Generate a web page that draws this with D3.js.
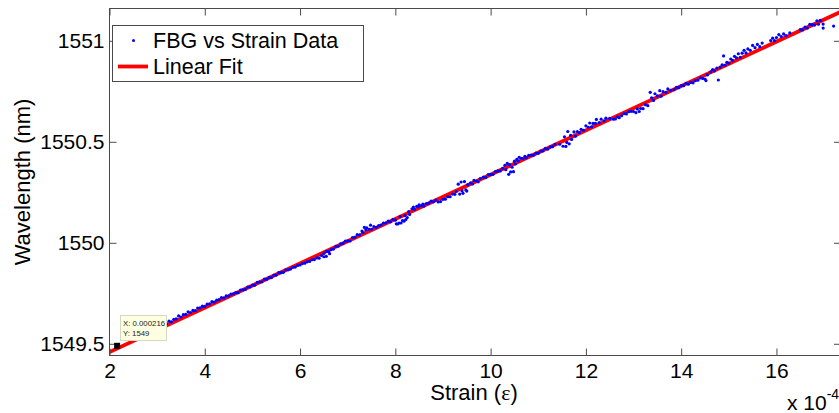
<!DOCTYPE html>
<html>
<head>
<meta charset="utf-8">
<script src="https://cdn.jsdelivr.net/npm/d3@7"></script>
<style>
  body { margin: 0; background: #fff; }
  svg { display: block; }
</style>
</head>
<body>
<div id="content"></div>
<script>
// strain values are in units of 1e-4 (axis multiplier "x 10^-4")
var strain = [
  3.10,3.15,3.20,3.25,3.30,3.35,3.40,3.45,3.50,3.55,3.60,3.65,3.70,3.75,3.80,3.85,3.90,3.95,4.00,4.05,4.10,4.15,4.20,4.25,4.30,4.35,4.40,4.45,4.50,4.55,4.60,
  4.65,4.70,4.75,4.80,4.85,4.90,4.95,5.00,5.05,5.10,5.15,5.20,5.25,5.30,5.35,5.40,5.45,5.50,5.55,5.60,5.65,5.70,5.75,5.80,5.85,5.90,5.95,6.00,
  6.05,6.10,6.15,6.20,6.25,6.30,6.35,6.40,6.45,6.50,6.50,6.55,6.55,6.60,6.62,6.65,6.70,
  6.75,6.80,6.85,6.90,6.95,7.00,7.05,7.10,7.15,7.20,7.25,7.30,7.32,7.35,7.38,7.40,7.45,7.48,7.50,7.55,7.60,
  7.65,7.70,7.75,7.80,7.85,7.90,7.95,8.00,
  8.02,8.05,8.08,8.10,8.12,8.15,8.18,8.20,8.22,8.25,8.28,8.30,8.35,8.38,8.40,
  8.45,8.48,8.50,8.55,8.58,8.60,8.65,8.70,8.75,8.80,8.85,
  8.90,8.95,9.00,9.05,9.10,9.15,9.20,9.25,9.28,
  9.32,9.35,9.38,9.40,9.42,9.45,9.48,9.50,9.52,
  9.58,9.62,9.65,9.70,9.74,9.78,
  9.85,9.90,9.95,10.00,10.05,10.10,10.15,10.20,10.25,
  10.30,10.32,10.35,10.38,10.40,10.42,10.45,10.48,10.50,10.52,10.55,10.58,10.60,
  10.65,10.68,10.72,10.75,10.80,
  10.85,10.90,10.95,11.00,11.05,11.10,11.15,11.20,11.25,11.30,11.35,
  11.45,11.52,11.55,11.58,11.60,11.62,11.65,11.68,11.70,11.75,11.78,11.82,11.86,
  11.90,11.95,12.00,12.05,12.08,12.12,12.15,12.20,12.22,12.28,12.32,12.38,12.42,
  12.50,12.58,12.62,12.66,12.70,12.75,12.80,12.85,12.90,12.95,
  13.00,13.05,13.08,13.12,13.15,13.20,13.25,13.30,
  13.35,13.38,13.42,13.45,13.50,13.55,13.58,13.62,13.68,13.72,
  13.78,13.85,13.90,13.95,14.00,14.05,14.10,
  14.15,14.20,14.25,14.30,14.35,14.40,14.45,14.50,14.52,14.55,
  14.62,14.66,14.70,14.75,14.78,14.82,14.86,14.89,14.92,14.96,15.00,
  15.04,15.08,15.12,15.16,15.20,15.24,15.28,15.32,15.36,15.40,15.45,15.50,15.55,15.60,15.65,15.70,
  15.88,15.92,15.96,16.00,16.05,16.10,16.15,16.20,16.28,
  16.50,16.55,16.60,16.65,16.70,16.75,16.80,16.85,16.88,16.92,16.98,16.98,17.20
];

var wavelength = [
  1549.585,1549.597,1549.600,1549.612,1549.609,1549.621,1549.623,1549.638,1549.632,1549.644,1549.646,1549.658,1549.655,1549.665,1549.664,1549.677,1549.678,1549.686,1549.685,1549.696,1549.698,1549.709,1549.706,1549.716,1549.719,1549.729,1549.727,1549.737,1549.737,1549.746,1549.747,
  1549.754,1549.753,1549.766,1549.767,1549.769,1549.781,1549.782,1549.791,1549.790,1549.804,1549.806,1549.807,1549.820,1549.819,1549.829,1549.828,1549.840,1549.840,1549.852,1549.852,1549.854,1549.866,1549.866,1549.870,1549.879,1549.880,1549.888,1549.890,
  1549.897,1549.899,1549.906,1549.908,1549.916,1549.917,1549.925,1549.924,1549.937,1549.931,1549.947,1549.933,1549.958,1549.956,1549.946,1549.966,1549.969,
  1549.982,1549.983,1549.995,1549.997,1550.008,1550.010,1550.009,1550.026,1550.027,1550.040,1550.039,1550.058,1550.051,1550.076,1550.064,1550.074,1550.067,1550.087,1550.067,1550.080,1550.076,
  1550.085,1550.087,1550.098,1550.098,1550.107,1550.104,1550.116,1550.112,
  1550.094,1550.093,1550.098,1550.130,1550.098,1550.110,1550.107,1550.135,1550.115,1550.125,1550.154,1550.140,1550.168,1550.177,1550.165,
  1550.181,1550.178,1550.188,1550.184,1550.192,1550.181,1550.194,1550.196,1550.206,1550.203,1550.212,
  1550.202,1550.204,1550.215,1550.216,1550.228,1550.228,1550.241,1550.240,1550.254,
  1550.290,1550.241,1550.301,1550.257,1550.245,1550.303,1550.262,1550.256,1550.288,
  1550.297,1550.291,1550.309,1550.306,1550.302,1550.318,
  1550.325,1550.323,1550.338,1550.338,1550.339,1550.353,1550.356,1550.356,1550.369,
  1550.384,1550.362,1550.393,1550.339,1550.387,1550.351,1550.374,1550.352,1550.404,1550.390,1550.413,1550.405,1550.423,
  1550.418,1550.416,1550.428,1550.421,1550.433,
  1550.434,1550.434,1550.444,1550.443,1550.454,1550.455,1550.467,1550.464,1550.475,1550.476,1550.488,
  1550.488,1550.478,1550.525,1550.477,1550.497,1550.551,1550.490,1550.532,1550.512,1550.549,1550.528,1550.551,1550.545,
  1550.562,1550.557,1550.579,1550.572,1550.593,1550.574,1550.591,1550.591,1550.611,1550.595,1550.612,1550.604,1550.617,
  1550.616,1550.612,1550.613,1550.623,1550.619,1550.629,1550.640,1550.638,1550.649,1550.651,
  1550.650,1550.644,1550.663,1550.650,1550.665,1550.664,1550.684,1550.679,
  1550.745,1550.718,1550.705,1550.738,1550.727,1550.753,1550.726,1550.748,1550.745,1550.762,
  1550.755,1550.758,1550.769,1550.768,1550.778,1550.778,1550.790,
  1550.785,1550.794,1550.792,1550.803,1550.805,1550.817,1550.814,1550.811,1550.803,1550.831,
  1550.846,1550.857,1550.851,1550.865,1550.806,1550.870,1550.881,1550.925,1550.879,1550.894,1550.890,
  1550.910,1550.903,1550.923,1550.916,1550.936,1550.918,1550.939,1550.953,1550.940,1550.960,1550.953,1550.977,1550.966,1550.982,1550.971,1550.989,
  1551.001,1551.013,1551.001,1551.016,1551.031,1551.021,1551.034,1551.026,1551.039,
  1551.055,1551.054,1551.068,1551.063,1551.081,1551.080,1551.078,1551.099,1551.082,1551.101,1551.063,1551.083,1551.073
];

// linear fit end points
var fitStrain = [2, 17.36];
var fitWavelength = [1549.459, 1551.145];

var xTicks = [2, 4, 6, 8, 10, 12, 14, 16];
var yTicks = [1549.5, 1550, 1550.5, 1551];

// data tip
var tipStrain = 2.16;
var tipWavelength = 1549.49;
var tipLines = ["X: 0.000216", "Y: 1549"];

var legendLabels = ["FBG vs Strain Data", "Linear Fit"];

var w = 839, h = 413;
var margin = {left: 109.5, top: 8.5, right: 841, bottom: 355.5};
var font = "'Liberation Sans', Arial, sans-serif";
var axisColor = "#4a4a4a";

var svg = d3.select("#content").append("svg")
    .attr("width", w)
    .attr("height", h)
    .style("font-family", font);

var x = d3.scaleLinear().domain([2, 17.355]).range([margin.left, margin.right]);
var y = d3.scaleLinear().domain([1549.442, 1551.16]).range([margin.bottom, margin.top]);

svg.append("defs").append("clipPath").attr("id", "plotclip")
   .append("rect")
   .attr("x", margin.left).attr("y", margin.top)
   .attr("width", margin.right - margin.left)
   .attr("height", margin.bottom - margin.top);

var plot = svg.append("g").attr("clip-path", "url(#plotclip)");

// fit line
plot.append("line")
    .attr("x1", x(fitStrain[0])).attr("y1", y(fitWavelength[0]))
    .attr("x2", x(fitStrain[1])).attr("y2", y(fitWavelength[1]))
    .attr("stroke", "#ff0000")
    .attr("stroke-width", 3.8);

// data points
plot.append("g")
    .selectAll("circle")
    .data(strain)
    .enter()
    .append("circle")
    .attr("cx", function(d) { return x(d); })
    .attr("cy", function(d, i) { return y(wavelength[i]); })
    .attr("r", 1.6)
    .attr("fill", "#0000ff");

function styleAxis(g) {
    g.select(".domain").remove();
    g.selectAll(".tick line").attr("stroke", axisColor);
    g.selectAll(".tick text")
     .attr("fill", "#000")
     .style("font-family", font)
     .style("font-size", "21px");
}

svg.append("g")
   .attr("transform", "translate(0," + margin.bottom + ")")
   .call(d3.axisBottom(x).tickValues(xTicks).tickSizeInner(-7).tickSizeOuter(0).tickPadding(8)
           .tickFormat(d3.format("d")))
   .call(styleAxis);

svg.append("g")
   .attr("transform", "translate(0," + margin.top + ")")
   .call(d3.axisTop(x).tickValues(xTicks).tickSizeInner(-7).tickSizeOuter(0).tickFormat(""))
   .call(styleAxis);

svg.append("g")
   .attr("transform", "translate(" + margin.left + ",0)")
   .call(d3.axisLeft(y).tickValues(yTicks).tickSizeInner(-7).tickSizeOuter(0).tickPadding(5)
           .tickFormat(function(d) { return String(d); }))
   .call(styleAxis);

svg.append("g")
   .attr("transform", "translate(" + margin.right + ",0)")
   .call(d3.axisRight(y).tickValues(yTicks).tickSizeInner(-7).tickSizeOuter(0).tickFormat(""))
   .call(styleAxis);

// axes box
svg.append("rect")
   .attr("x", margin.left).attr("y", margin.top)
   .attr("width", margin.right - margin.left)
   .attr("height", margin.bottom - margin.top)
   .attr("fill", "none")
   .attr("stroke", axisColor)
   .attr("stroke-width", 1);

// axis labels
var xl = svg.append("text")
   .attr("x", 474).attr("y", 400)
   .attr("text-anchor", "middle")
   .style("font-size", "22px");
xl.append("tspan").text("Strain (");
xl.append("tspan").style("font-family", "'Liberation Serif', 'DejaVu Serif', serif").text("ε");
xl.append("tspan").text(")");

svg.append("text")
   .attr("transform", "translate(30,182) rotate(-90)")
   .attr("text-anchor", "middle")
   .style("font-size", "22px")
   .text("Wavelength (nm)");

// exponent
var ex = svg.append("text")
   .attr("x", 787).attr("y", 410)
   .style("font-size", "21px");
ex.append("tspan").text("x 10");
ex.append("tspan").attr("dy", -11).style("font-size", "14px").text("-4");

// legend
var legend = svg.append("g");
legend.append("rect")
   .attr("x", 112.5).attr("y", 25.5)
   .attr("width", 251).attr("height", 56)
   .attr("fill", "#fff")
   .attr("stroke", axisColor);
legend.append("circle")
   .attr("cx", 133.5).attr("cy", 40.5).attr("r", 1.5)
   .attr("fill", "#0000ff");
legend.append("line")
   .attr("x1", 118).attr("x2", 148).attr("y1", 66.5).attr("y2", 66.5)
   .attr("stroke", "#ff0000").attr("stroke-width", 3.8);
legend.selectAll("text.lbl")
   .data(legendLabels)
   .enter()
   .append("text")
   .attr("class", "lbl")
   .attr("x", 153)
   .attr("y", function(d, i) { return 48 + i * 26; })
   .style("font-size", "21.5px")
   .text(function(d) { return d; });

// data tip
var tx = x(tipStrain), ty = y(tipWavelength);
svg.append("rect")
   .attr("x", tx - 3).attr("y", ty - 3)
   .attr("width", 6).attr("height", 6)
   .attr("fill", "#000");
var tip = svg.append("g");
tip.append("rect")
   .attr("x", 120.5).attr("y", 315.5)
   .attr("width", 46).attr("height", 25)
   .attr("fill", "#ffffe1")
   .attr("stroke", "#d8d8c0");
tip.selectAll("text")
   .data(tipLines)
   .enter()
   .append("text")
   .attr("x", 123)
   .attr("y", function(d, i) { return 326 + i * 10; })
   .style("font-size", "7.8px")
   .attr("fill", "#222")
   .text(function(d) { return d; });
</script>
</body>
</html>
